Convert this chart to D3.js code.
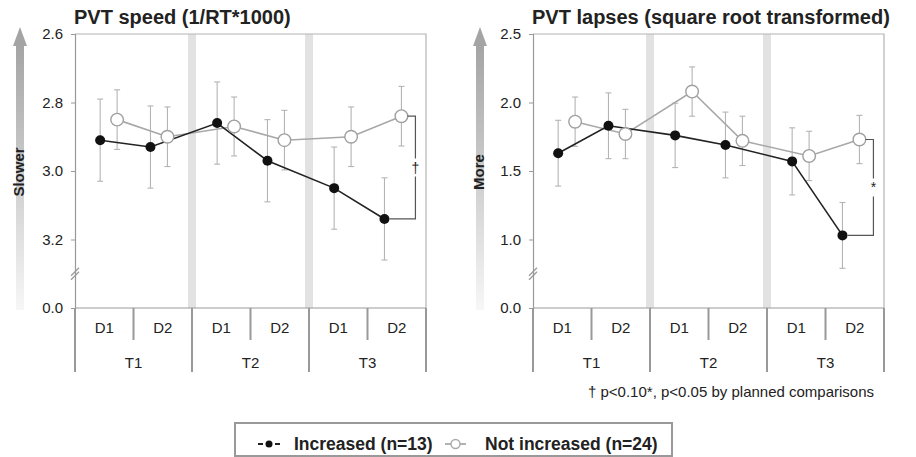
<!DOCTYPE html>
<html>
<head>
<meta charset="utf-8">
<script src="https://cdn.jsdelivr.net/npm/d3@7"></script>
<style>
  body { margin: 0; background: #fff; }
  text { font-family: "Liberation Sans", Arial, sans-serif; fill: #222; }
  .title { font-size: 20px; font-weight: bold; }
  .tick-label { font-size: 15px; }
  .cat-label { font-size: 15px; }
  .side-label { font-size: 15px; font-weight: bold; }
  .legend-text { font-size: 17.5px; font-weight: bold; }
  .note { font-size: 15px; }
</style>
</head>
<body>
<svg id="chart" width="916" height="457"></svg>
<script>
// Data ////////////////////////////////////////////////////////////////

var periods = ["T1", "T2", "T3"];
var days = ["D1", "D2"];

// PVT speed, 6 points = T1D1, T1D2, T2D1, T2D2, T3D1, T3D2
var speedInc = [2.91, 2.93, 2.86, 2.97, 3.05, 3.14];
var speedIncErr = [0.12, 0.12, 0.12, 0.12, 0.12, 0.12];
var speedNot = [2.85, 2.90, 2.87, 2.91, 2.90, 2.84];
var speedNotErr = [0.087, 0.087, 0.086, 0.087, 0.087, 0.087];
var speedTicks = [2.6, 2.8, 3.0, 3.2, 3.4];
var speedTickLabels = ["2.6", "2.8", "3.0", "3.2", "0.0"];

// PVT lapses
var lapseInc = [1.63, 1.83, 1.76, 1.69, 1.57, 1.03];
var lapseIncErr = [0.24, 0.24, 0.235, 0.24, 0.245, 0.24];
var lapseNot = [1.86, 1.77, 2.08, 1.72, 1.61, 1.73];
var lapseNotErr = [0.18, 0.18, 0.18, 0.18, 0.18, 0.176];
var lapseTicks = [2.5, 2.0, 1.5, 1.0, 0.5];
var lapseTickLabels = ["2.5", "2.0", "1.5", "1.0", "0.0"];

var seriesNames = ["Increased (n=13)", "Not increased (n=24)"];

// Chart ////////////////////////////////////////////////////////////////

var svg = d3.select("#chart");

var defs = svg.append("defs");
var grad = defs.append("linearGradient")
    .attr("id", "arrowGrad")
    .attr("x1", 0).attr("y1", 0).attr("x2", 0).attr("y2", 1);
grad.append("stop").attr("offset", "0%").attr("stop-color", "#a4a4a4");
grad.append("stop").attr("offset", "100%").attr("stop-color", "#f7f7f7");

var plotTop = 34, plotBottom = 308;

function drawPanel(cfg) {
    var g = svg.append("g");

    var xT = d3.scaleBand().domain(periods).range([cfg.left, cfg.right]);
    var bw = xT.bandwidth();
    var xD = d3.scalePoint().domain(days).range([0.215 * bw, 0.645 * bw]);
    var notOffset = 0.145 * bw;

    var y = d3.scaleLinear().domain(cfg.domain).range([plotTop, plotBottom]);

    // flat list of points
    var pts = [];
    periods.forEach(function(t) {
        days.forEach(function(d) {
            var i = pts.length;
            pts.push({t: t, d: d, inc: cfg.inc[i], incErr: cfg.incErr[i], not: cfg.not[i], notErr: cfg.notErr[i]});
        });
    });
    function px(d) { return xT(d.t) + xD(d.d) }

    // side arrow + label
    g.append("rect")
        .attr("x", cfg.arrowX - 4)
        .attr("y", 44)
        .attr("width", 8)
        .attr("height", plotBottom + 2 - 44)
        .attr("fill", "url(#arrowGrad)");
    g.append("path")
        .attr("d", "M" + (cfg.arrowX - 7) + ",46 L" + cfg.arrowX + ",27 L" + (cfg.arrowX + 7) + ",46 Z")
        .attr("fill", "#a4a4a4");
    g.append("text")
        .attr("class", "side-label")
        .attr("transform", "translate(" + (cfg.arrowX + 4) + "," + 172 + ") rotate(-90)")
        .attr("text-anchor", "middle")
        .text(cfg.sideLabel);

    // grey separators between periods
    g.selectAll(".band")
        .data(periods.slice(1))
        .enter()
        .append("rect")
            .attr("x", function(t) { return xT(t) - 4 })
            .attr("y", plotTop)
            .attr("width", 8)
            .attr("height", plotBottom - plotTop)
            .attr("fill", "#e2e2e2");

    // frame
    g.append("path")
        .attr("d", "M" + cfg.left + "," + plotTop + "H" + cfg.right + "V" + plotBottom)
        .attr("fill", "none")
        .attr("stroke", "#b4b4b4")
        .attr("stroke-width", 1.2);

    // y axis
    var yAxis = d3.axisLeft(y)
        .tickValues(cfg.ticks)
        .tickSize(4)
        .tickPadding(8)
        .tickFormat(function(v, i) { return cfg.tickLabels[i] });
    var ya = g.append("g")
        .attr("transform", "translate(" + cfg.left + ",0)")
        .call(yAxis);
    ya.select(".domain").attr("stroke", "#999").attr("stroke-width", 1.2);
    ya.selectAll(".tick line").attr("stroke", "#999");
    ya.selectAll(".tick text")
        .attr("class", "tick-label")
        .attr("fill", "#222")
        .style("font-size", "15px")
        .style("font-family", "'Liberation Sans', Arial, sans-serif");

    // axis break
    var by = y(cfg.breakAt);
    [-2, 2].forEach(function(o) {
        g.append("line")
            .attr("x1", cfg.left - 4).attr("y1", by + 4 + o)
            .attr("x2", cfg.left + 4).attr("y2", by - 4 + o)
            .attr("stroke", "#999")
            .attr("stroke-width", 1.2);
    });

    // category axis
    g.append("line")
        .attr("x1", cfg.left).attr("x2", cfg.right)
        .attr("y1", plotBottom).attr("y2", plotBottom)
        .attr("stroke", "#999").attr("stroke-width", 1.2);
    var tEdges = periods.map(function(t) { return xT(t) }).concat([cfg.right]);
    g.selectAll(".t-sep")
        .data(tEdges)
        .enter()
        .append("line")
            .attr("x1", function(d) { return d }).attr("x2", function(d) { return d })
            .attr("y1", plotBottom).attr("y2", plotBottom + 64)
            .attr("stroke", "#999").attr("stroke-width", 2);
    g.selectAll(".d-sep")
        .data(periods)
        .enter()
        .append("line")
            .attr("x1", function(t) { return xT(t) + bw / 2 })
            .attr("x2", function(t) { return xT(t) + bw / 2 })
            .attr("y1", plotBottom).attr("y2", plotBottom + 32)
            .attr("stroke", "#999").attr("stroke-width", 2);
    g.selectAll(".d-label")
        .data(pts)
        .enter()
        .append("text")
            .attr("class", "cat-label")
            .attr("x", function(d) { return xT(d.t) + (d.d === "D1" ? bw / 4 : bw * 3 / 4) })
            .attr("y", plotBottom + 25)
            .attr("text-anchor", "middle")
            .text(function(d) { return d.d });
    g.selectAll(".t-label")
        .data(periods)
        .enter()
        .append("text")
            .attr("class", "cat-label")
            .attr("x", function(t) { return xT(t) + bw / 2 })
            .attr("y", plotBottom + 60)
            .attr("text-anchor", "middle")
            .text(function(t) { return t });

    // error bars
    function errBars(key, errKey, off) {
        var eb = g.selectAll(".eb-" + key)
            .data(pts)
            .enter()
            .append("g")
                .attr("stroke", "#b4b4b4")
                .attr("stroke-width", 1.1);
        eb.append("line")
            .attr("x1", function(d) { return px(d) + off }).attr("x2", function(d) { return px(d) + off })
            .attr("y1", function(d) { return y(d[key] - d[errKey]) })
            .attr("y2", function(d) { return y(d[key] + d[errKey]) });
        [-1, 1].forEach(function(s) {
            eb.append("line")
                .attr("x1", function(d) { return px(d) + off - 3 }).attr("x2", function(d) { return px(d) + off + 3 })
                .attr("y1", function(d) { return y(d[key] + s * d[errKey]) })
                .attr("y2", function(d) { return y(d[key] + s * d[errKey]) });
        });
    }
    errBars("not", "notErr", notOffset);
    errBars("inc", "incErr", 0);

    // lines
    var lineNot = d3.line().x(function(d) { return px(d) + notOffset }).y(function(d) { return y(d.not) });
    var lineInc = d3.line().x(function(d) { return px(d) }).y(function(d) { return y(d.inc) });
    g.append("path")
        .attr("d", lineNot(pts))
        .attr("fill", "none").attr("stroke", "#a8a8a8").attr("stroke-width", 1.6);
    g.append("path")
        .attr("d", lineInc(pts))
        .attr("fill", "none").attr("stroke", "#222").attr("stroke-width", 1.6);

    g.selectAll(".pt-not")
        .data(pts)
        .enter()
        .append("circle")
            .attr("cx", function(d) { return px(d) + notOffset })
            .attr("cy", function(d) { return y(d.not) })
            .attr("r", 6.3)
            .attr("fill", "#fff")
            .attr("stroke", "#a0a0a0")
            .attr("stroke-width", 1.4);
    g.selectAll(".pt-inc")
        .data(pts)
        .enter()
        .append("circle")
            .attr("cx", function(d) { return px(d) })
            .attr("cy", function(d) { return y(d.inc) })
            .attr("r", 5)
            .attr("fill", "#111");

    // significance bracket on the last pair
    var last = pts[pts.length - 1];
    var bx = px(last) + notOffset + 14;
    var yTop = y(last.not), yBot = y(last.inc);
    var mid = (yTop + yBot) / 2;
    g.append("path")
        .attr("d", "M" + (px(last) + notOffset + 6) + "," + yTop + "H" + bx + "V" + (mid - 9)
            + "M" + bx + "," + (mid + 9) + "V" + yBot + "H" + (px(last) + 5))
        .attr("fill", "none")
        .attr("stroke", "#555")
        .attr("stroke-width", 1.2);
    g.append("text")
        .attr("x", bx)
        .attr("y", mid + 5)
        .attr("text-anchor", "middle")
        .attr("fill", "#222")
        .style("fill", "#222")
        .style("font-size", "14px")
        .text(cfg.mark);

    // title
    g.append("text")
        .attr("class", "title")
        .attr("x", cfg.left - 1)
        .attr("y", 24)
        .text(cfg.title);
}

drawPanel({
    left: 75, right: 426,
    domain: [2.6, 3.4],
    ticks: speedTicks, tickLabels: speedTickLabels,
    inc: speedInc, incErr: speedIncErr, not: speedNot, notErr: speedNotErr,
    breakAt: 3.3,
    arrowX: 20, sideLabel: "Slower",
    mark: "\u2020",
    title: "PVT speed (1/RT*1000)"
});

drawPanel({
    left: 533, right: 884,
    domain: [2.5, 0.5],
    ticks: lapseTicks, tickLabels: lapseTickLabels,
    inc: lapseInc, incErr: lapseIncErr, not: lapseNot, notErr: lapseNotErr,
    breakAt: 0.75,
    arrowX: 480, sideLabel: "More",
    mark: "*",
    title: "PVT lapses (square root transformed)"
});

// footnote
svg.append("text")
    .attr("class", "note")
    .attr("x", 588)
    .attr("y", 397)
    .text("\u2020 p<0.10*, p<0.05 by planned comparisons");

// Legend ///////////////////////////////////////////////////////////////

var legend = svg.append("g");
legend.append("rect")
    .attr("x", 235).attr("y", 423)
    .attr("width", 437).attr("height", 33)
    .attr("fill", "#fff")
    .attr("stroke", "#999")
    .attr("stroke-width", 2);

// increased symbol
legend.append("line")
    .attr("x1", 258).attr("x2", 280).attr("y1", 444).attr("y2", 444)
    .attr("stroke", "#222").attr("stroke-width", 1.8)
    .attr("stroke-dasharray", "5,12");
legend.append("circle").attr("cx", 269).attr("cy", 444).attr("r", 3.5).attr("fill", "#111");
legend.append("text")
    .attr("class", "legend-text")
    .attr("x", 294).attr("y", 450)
    .text(seriesNames[0]);

// not increased symbol
legend.append("line")
    .attr("x1", 445).attr("x2", 466).attr("y1", 444).attr("y2", 444)
    .attr("stroke", "#aaa").attr("stroke-width", 1.8);
legend.append("circle").attr("cx", 455.5).attr("cy", 444).attr("r", 4.5)
    .attr("fill", "#fff").attr("stroke", "#aaa").attr("stroke-width", 1.4);
legend.append("text")
    .attr("class", "legend-text")
    .attr("x", 485).attr("y", 450)
    .text(seriesNames[1]);
</script>
</body>
</html>
